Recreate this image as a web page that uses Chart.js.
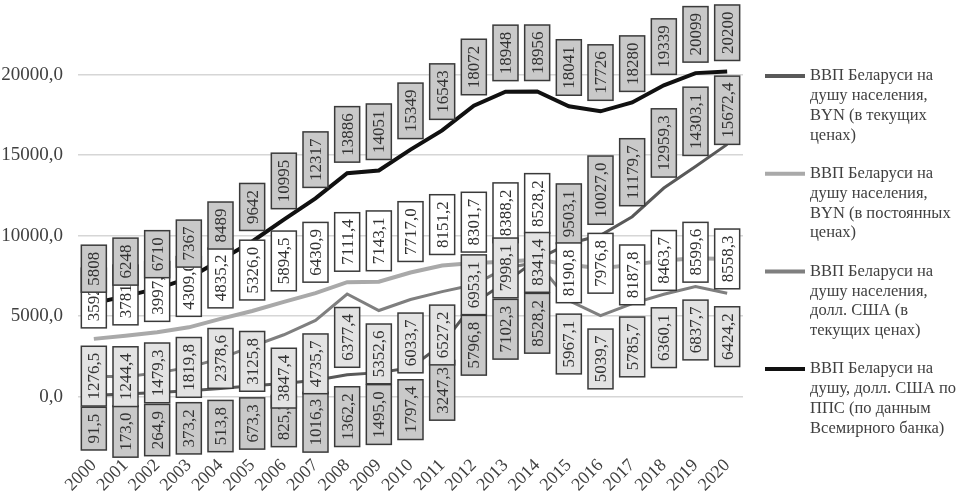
<!DOCTYPE html>
<html>
<head>
<meta charset="utf-8">
<script src="https://cdn.jsdelivr.net/npm/chart.js@4.4.0/dist/chart.umd.min.js"></script>
<style>
html,body{margin:0;padding:0;background:#fff;}
#wrap{width:970px;height:499px;position:relative;}
</style>
</head>
<body>
<div id="wrap"><canvas id="c" width="970" height="499"></canvas></div>
<script>
// ---- data ----
const years = ['2000','2001','2002','2003','2004','2005','2006','2007','2008','2009','2010',
               '2011','2012','2013','2014','2015','2016','2017','2018','2019','2020'];
const gdpBynCurrent  = [91.5,173.0,264.9,373.2,513.8,673.3,825.3,1016.3,1362.2,1495.0,1797.4,
                        3247.3,5796.8,7102.3,8528.2,9503.1,10027.0,11179.7,12959.3,14303.1,15672.4];
const gdpBynConstant = [3592.0,3781.0,3997.0,4309.0,4835.2,5326.0,5894.5,6430.9,7111.4,7143.1,7717.0,
                        8151.2,8301.7,8388.2,8528.2,8190.8,7976.8,8187.8,8463.7,8599.6,8558.3];
const gdpUsdCurrent  = [1276.5,1244.4,1479.3,1819.8,2378.6,3125.8,3847.4,4735.7,6377.4,5352.6,6033.7,
                        6527.2,6953.1,7998.1,8341.4,5967.1,5039.7,5785.7,6360.1,6837.7,6424.2];
const gdpUsdPpp      = [5808,6248,6710,7367,8489,9642,10995,12317,13886,14051,15349,
                        16543,18072,18948,18956,18041,17726,18280,19339,20099,20200];
const yTicks = [0,5000,10000,15000,20000];
const seriesNames = [
  ['ВВП Беларуси на','душу населения,','BYN (в текущих','ценах)'],
  ['ВВП Беларуси на','душу населения,','BYN (в постоянных','ценах)'],
  ['ВВП Беларуси на','душу населения,','долл. США (в','текущих ценах)'],
  ['ВВП Беларуси на','душу, долл. США по','ППС (по данным','Всемирного банка)']
];

// ---- label styling / placement (a = above, b = below, c = centred) ----
const LABEL_STYLE = [
  {fill:'#c9c9c9', decimals:1, place:'bbbbbbbbbbbbbbbaaaaaa', shift:{11:4,13:5,14:22,15:11,20:11}, gapB:12, gapA:11},
  {fill:'#ffffff', decimals:1, place:'aaaaaaaaaaaaaaacccccc', shift:{13:-8,14:-15,15:8,16:-5,17:10,19:-6}, gapB:12, gapA:11},
  {fill:'#e3e3e3', decimals:1, place:'ccccccbbbbbbcccbbbbbb', shift:{5:15}, gapB:13.5, gapA:11},
  {fill:'#c9c9c9', decimals:0, place:'aaaaaaaaaaaaaaaaaaaaa', shift:{}, gapB:12, gapA:11}
];
const LABEL_FONT = '17px "Liberation Serif", "Times New Roman", serif';
const SERIF = '"Liberation Serif", "Times New Roman", serif';

function fmt(v, d){ return v.toFixed(d).replace('.', ','); }

const boxLabels = {
  id:'boxLabels',
  afterDatasetsDraw(chart){
    const ctx = chart.ctx;
    ctx.save();
    ctx.font = LABEL_FONT;
    chart.data.datasets.forEach((ds,i)=>{
      const st = LABEL_STYLE[i];
      const meta = chart.getDatasetMeta(i);
      meta.data.forEach((pt,j)=>{
        const txt = fmt(ds.data[j], st.decimals);
        const tw = ctx.measureText(txt).width;
        const h = tw + 13, w = 25;
        const p = st.place[j];
        let top;
        if (p === 'a') top = pt.y - st.gapA - h;
        else if (p === 'b') top = pt.y + st.gapB;
        else top = pt.y - h/2;
        top += (st.shift[j] || 0);
        if (top < 2) top = 2;
        ctx.fillStyle = st.fill;
        ctx.fillRect(pt.x - w/2, top, w, h);
        ctx.lineWidth = 1.5;
        ctx.strokeStyle = '#3a3a3a';
        ctx.strokeRect(pt.x - w/2, top, w, h);
        ctx.save();
        ctx.translate(pt.x, top + h/2);
        ctx.rotate(-Math.PI/2);
        ctx.textAlign = 'center';
        ctx.textBaseline = 'middle';
        ctx.fillStyle = '#333333';
        ctx.fillText(txt, 0, 1);
        ctx.restore();
      });
    });
    ctx.restore();
  }
};

const sideLegend = {
  id:'sideLegend',
  afterDraw(chart){
    const ctx = chart.ctx;
    ctx.save();
    ctx.font = '16.5px ' + SERIF;
    ctx.textAlign = 'left';
    ctx.textBaseline = 'middle';
    seriesNames.forEach((lines,i)=>{
      const y0 = 76 + i*97.7;
      const ds = chart.data.datasets[i];
      ctx.strokeStyle = ds.borderColor;
      ctx.lineWidth = 4;
      ctx.beginPath(); ctx.moveTo(765, y0); ctx.lineTo(805, y0); ctx.stroke();
      ctx.fillStyle = '#404040';
      lines.forEach((t,k)=>ctx.fillText(t, 810, y0 + k*19.8));
    });
    ctx.restore();
  }
};

Chart.defaults.font.family = SERIF;

new Chart(document.getElementById('c'), {
  type:'line',
  data:{
    labels: years,
    datasets:[
      {label:seriesNames[0].join(' '), data:gdpBynCurrent,  borderColor:'#595959', borderWidth:3, pointRadius:0, order:3, tension:0},
      {label:seriesNames[1].join(' '), data:gdpBynConstant, borderColor:'#a9a9a9', borderWidth:4, pointRadius:0, order:2, tension:0},
      {label:seriesNames[2].join(' '), data:gdpUsdCurrent,  borderColor:'#7f7f7f', borderWidth:3, pointRadius:0, order:1, tension:0},
      {label:seriesNames[3].join(' '), data:gdpUsdPpp,      borderColor:'#111111', borderWidth:4, pointRadius:0, order:0, tension:0}
    ]
  },
  options:{
    responsive:false,
    animation:false,
    devicePixelRatio:1,
    layout:{padding:{left:0, right:227, top:2, bottom:0}},
    plugins:{legend:{display:false}, tooltip:{enabled:false}},
    scales:{
      x:{
        offset:true,
        grid:{display:false},
        border:{display:false},
        ticks:{font:{family:SERIF, size:18}, color:'#404040', minRotation:45, maxRotation:45, autoSkip:false, padding:2},
        afterFit(s){ s.height = 54; }
      },
      y:{
        min:-3000, max:23000,
        afterBuildTicks(s){ s.ticks = yTicks.map(v=>({value:v})); },
        grid:{color:'#d6d6d6', lineWidth:1.5, drawTicks:false},
        border:{display:false},
        ticks:{font:{family:SERIF, size:19}, color:'#404040', padding:15,
               callback:(v)=>fmt(v,1)},
        afterFit(s){ s.width = 78; }
      }
    }
  },
  plugins:[boxLabels, sideLegend]
});
</script>
</body>
</html>
